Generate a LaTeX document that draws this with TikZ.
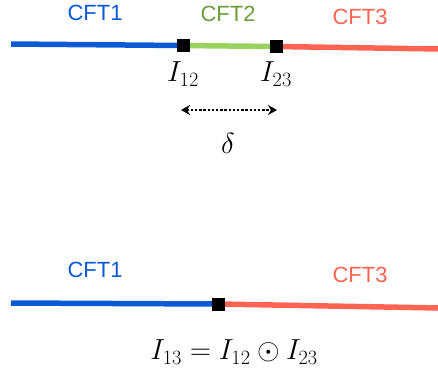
\RequirePackage{fix-cm}
\documentclass[tikz,border=0pt]{standalone}
\usepackage{fontspec}
\newfontfamily\cftfont{Liberation Sans}
\usetikzlibrary{arrows.meta}
\definecolor{cblue}{HTML}{0A5AD6}
\definecolor{cgreen}{HTML}{9AD260}
\definecolor{cgreentext}{HTML}{6A9E3C}
\definecolor{cred}{HTML}{FF6352}
\begin{document}
\begin{tikzpicture}[x=1pt,y=-1pt,
  seg/.style={line width=5.5pt},
  junction/.style={fill=black,minimum size=13pt,inner sep=0pt,draw=none},
  cft/.style={font=\cftfont\fontsize{22}{24}\selectfont},
  mlabel/.style={font=\fontsize{29}{32}\selectfont},
  span/.style={line width=2.4pt,dash pattern=on 2.4pt off 1.8pt,
    {Stealth[length=9pt,width=10pt]}-{Stealth[length=9pt,width=10pt]}}]
\useasboundingbox (0,0) rectangle (438,373);
% top
\coordinate (tl) at (11,44);
\coordinate (tr) at (440,49);
\node[junction] (j12) at (183,45.5) {};
\node[junction] (j23) at (276,46.5) {};
\draw[seg,cblue] (tl) -- (j12.center);
\draw[seg,cgreen] (j12.center) -- (j23.center);
\draw[seg,cred] (j23.center) -- (tr);
\node[junction] at (j12) {};
\node[junction] at (j23) {};
\node[cft,text=cblue] (c1) at (95,13) {CFT1};
\node[cft,text=cgreentext] (c2) at (228,14) {CFT2};
\node[cft,text=cred] (c3) at (360,17) {CFT3};
\node[mlabel] (l12) at (183,74) {$I_{12}$};
\node[mlabel] (l23) at (276,74) {$I_{23}$};
\coordinate (al) at (181,110);
\coordinate (ar) at (277,110);
\draw[span] (al) -- (ar);
\node[mlabel] (d) at (228,143) {$\delta$};
% bottom
\coordinate (bl) at (11,303);
\coordinate (br) at (440,308);
\node[junction] (j13) at (218,304) {};
\draw[seg,cblue] (bl) -- (j13.center);
\draw[seg,cred] (j13.center) -- (br);
\node[junction] at (j13) {};
\node[cft,text=cblue] (b1) at (95,270) {CFT1};
\node[cft,text=cred] (b3) at (360,275) {CFT3};
\node[mlabel] (f) at (234,352) {$I_{13}=I_{12}\odot I_{23}$};
\end{tikzpicture}
\end{document}
